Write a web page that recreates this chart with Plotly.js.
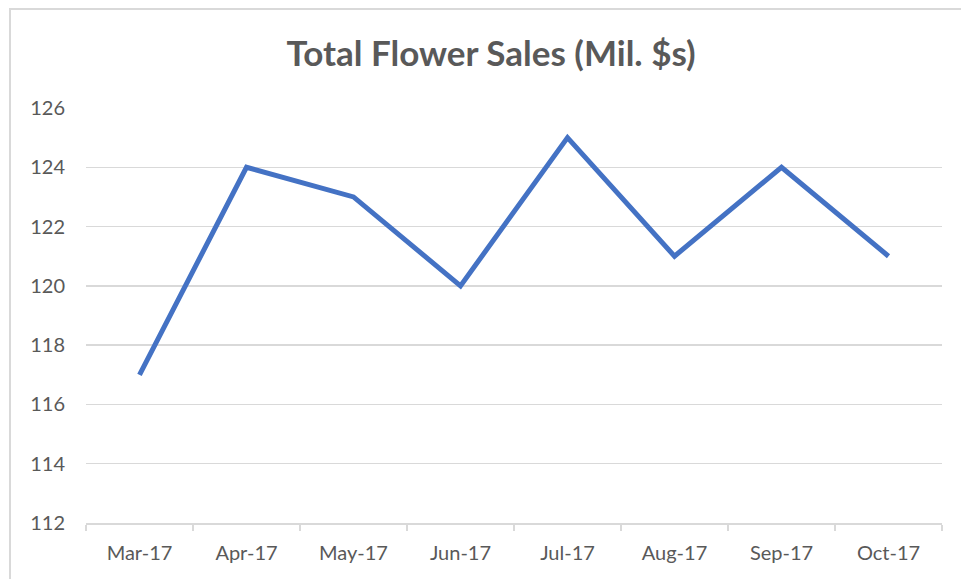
<!DOCTYPE html>
<html>
<head>
<meta charset="utf-8">
<script src="https://cdn.plot.ly/plotly-3.0.1.min.js"></script>
<style>
  body { margin: 0; background: #fff; }
  #chart { position: absolute; left: 0; top: 0; width: 961px; height: 579px; }
  #frame { position: absolute; left: 9px; top: 8px; width: 960px; height: 580px;
           border-top: 2px solid #d9d9d9; border-left: 2px solid #d9d9d9; pointer-events: none; }
</style>
</head>
<body>
<div id="chart"></div>
<div id="frame"></div>
<script>
/* -------------------- DATA -------------------- */

const months = ['Mar-17', 'Apr-17', 'May-17', 'Jun-17', 'Jul-17', 'Aug-17', 'Sep-17', 'Oct-17'];
const sales = [117, 124, 123, 120, 125, 121, 124, 121];
const yTicks = [112, 114, 116, 118, 120, 122, 124, 126];

/* -------------------- PLOT -------------------- */

const GRAY = '#595959';
const GRID = '#d9d9d9';

const trace = {
  x: months,
  y: sales,
  mode: 'lines',
  line: { color: '#4472C4', width: 5 },
  hoverinfo: 'x+y'
};

const layout = {
  width: 961,
  height: 579,
  margin: { l: 86, r: 19, t: 107.5, b: 56 },
  paper_bgcolor: 'rgba(0,0,0,0)',
  plot_bgcolor: '#fff',
  showlegend: false,
  font: { family: 'Lato, sans-serif', color: GRAY, size: 20 },
  title: {
    text: 'Total Flower Sales (Mil. $s)',
    font: { family: 'Lato, sans-serif', size: 35, color: GRAY, weight: 'bold' },
    x: 0.511, xanchor: 'center',
    y: 0.908, yanchor: 'middle'
  },
  xaxis: {
    type: 'category',
    range: [-0.5, months.length - 0.5],
    showgrid: false,
    showline: true,
    linecolor: GRID,
    linewidth: 1.5,
    ticks: 'outside',
    tickson: 'boundaries',
    ticklen: 6,
    tickcolor: GRID,
    tickwidth: 1.5,
    ticklabelstandoff: 11,
    tickfont: { size: 20, color: GRAY }
  },
  yaxis: {
    range: [112, 126],
    tickvals: yTicks,
    showgrid: true,
    gridcolor: GRID,
    gridwidth: 1.5,
    zeroline: false,
    showline: false,
    ticks: '',
    ticklabelstandoff: 20,
    tickfont: { size: 20, color: GRAY }
  }
};

Plotly.newPlot('chart', [trace], layout, { displayModeBar: false, staticPlot: true });
</script>
</body>
</html>
